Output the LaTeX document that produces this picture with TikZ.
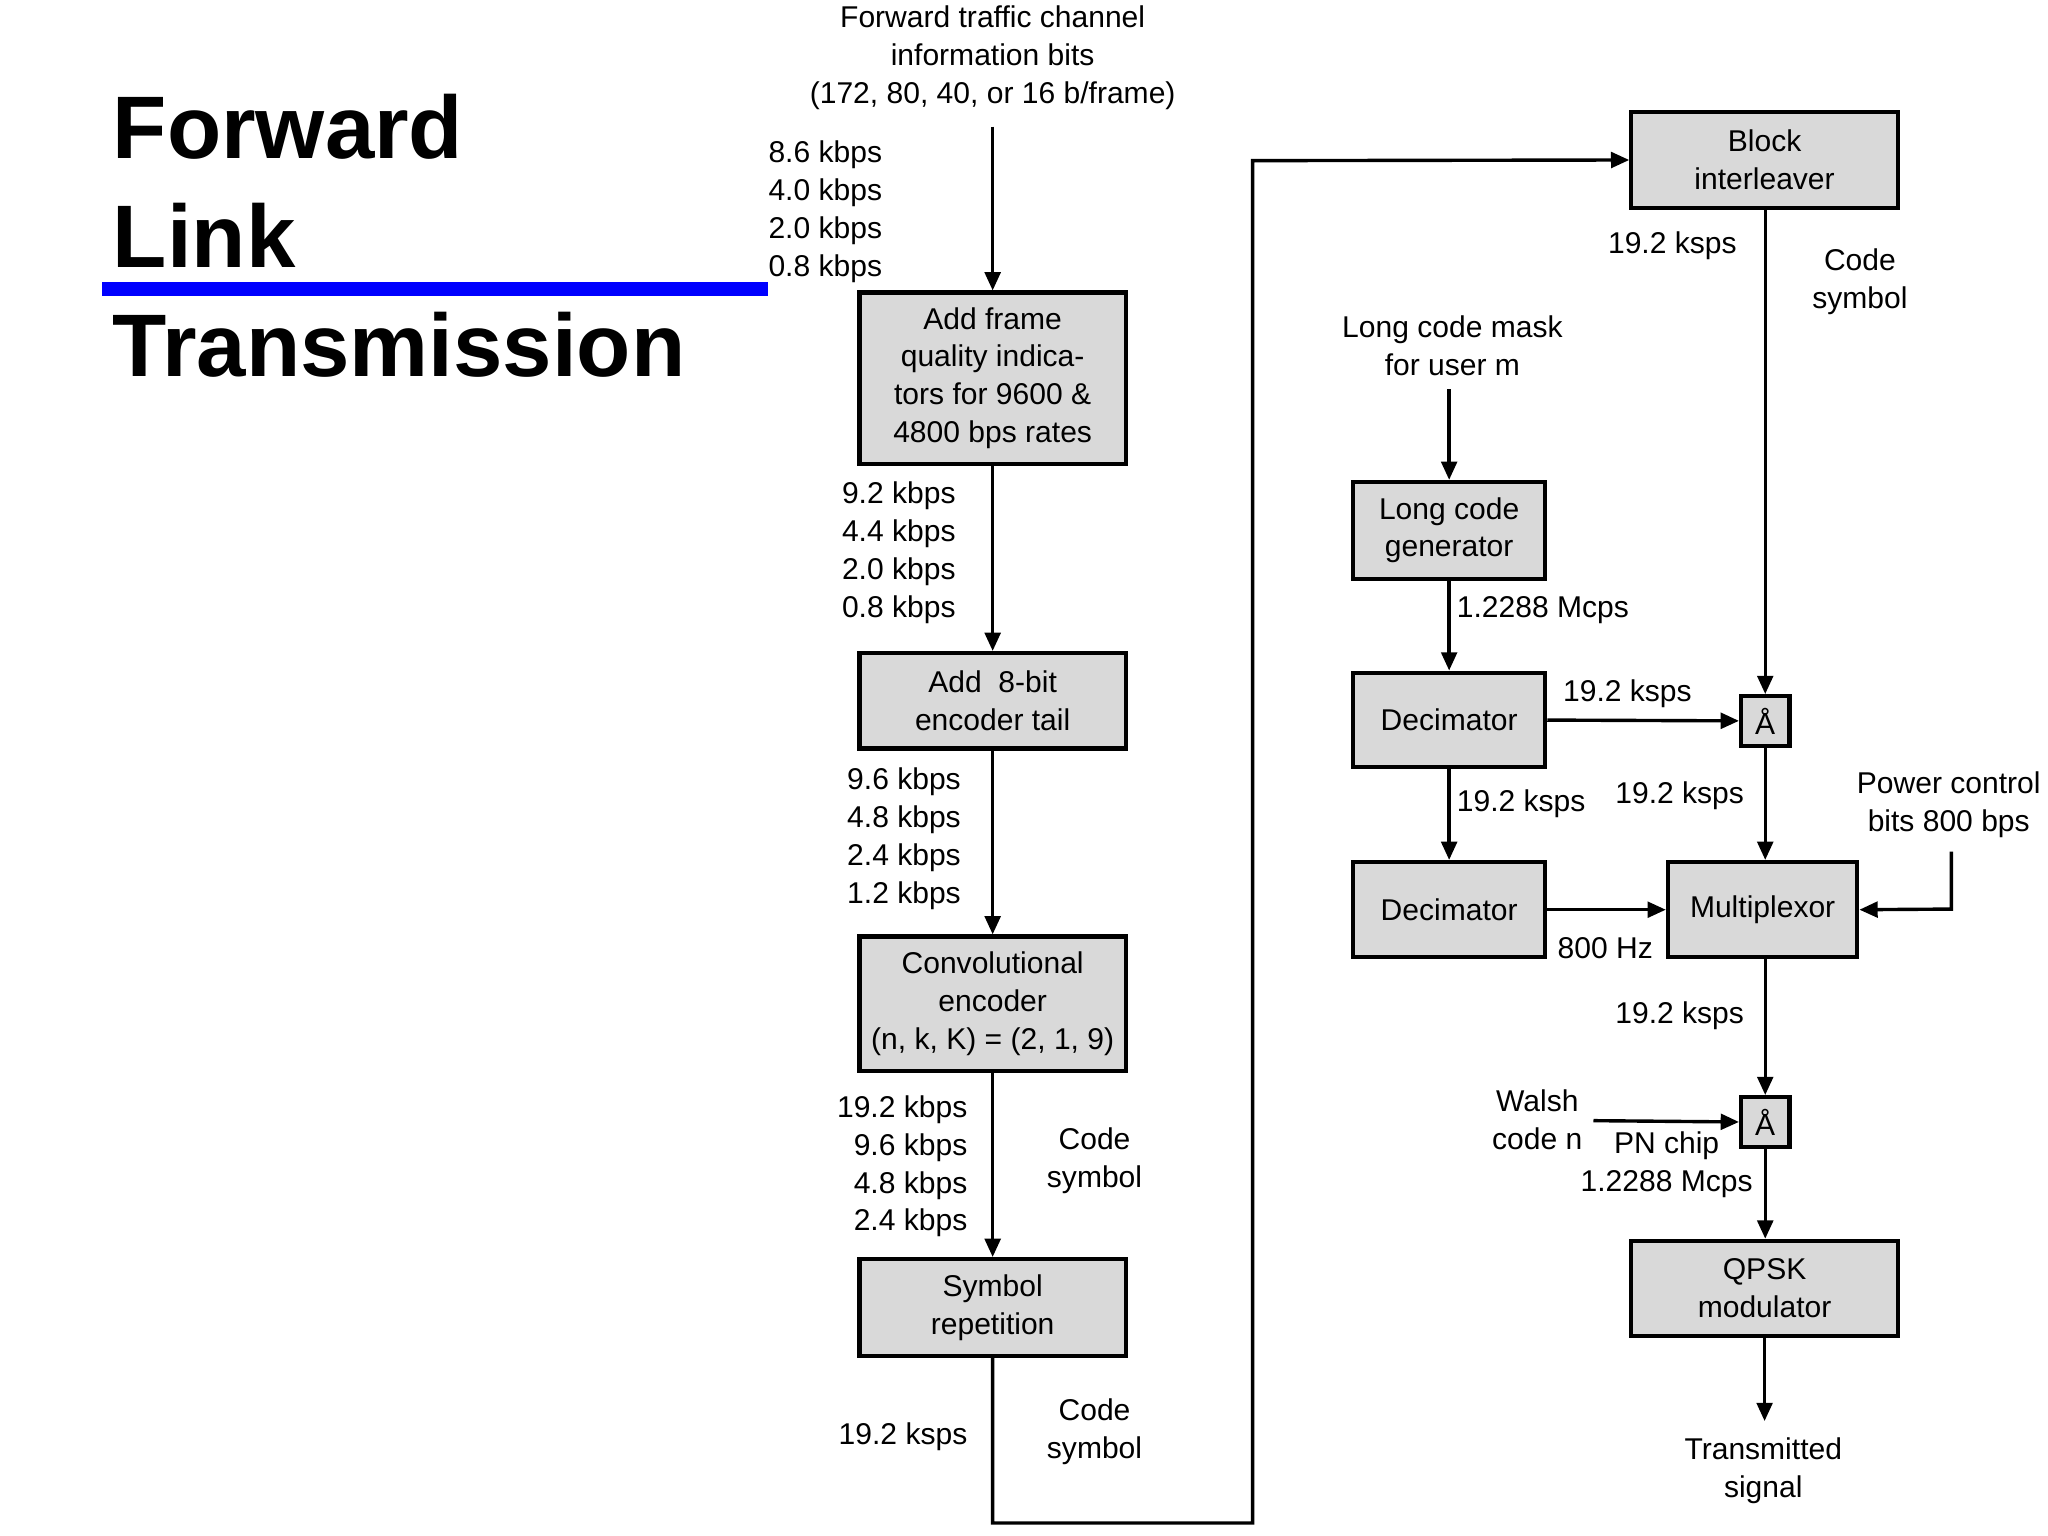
\documentclass[tikz,border=0pt]{standalone}
\usepackage{fontspec}
\setmainfont{Liberation Sans}
\usetikzlibrary{arrows.meta}
\begin{document}
\begin{tikzpicture}[x=0.5pt,y=-0.5pt,
  box/.style={draw,line width=1.6pt,fill=gray!30,inner sep=0pt,align=center,font=\fontsize{11.5}{14.5}\selectfont},
  lbl/.style={align=center,font=\fontsize{11.5}{14.5}\selectfont,inner sep=0pt},
  lblr/.style={align=right,font=\fontsize{11.5}{14.5}\selectfont,inner sep=0pt,anchor=east},
  lbll/.style={align=left,font=\fontsize{11.5}{14.5}\selectfont,inner sep=0pt,anchor=west},
  arr/.style={line width=1.3pt,-{Triangle[length=7pt,width=6pt]}},
  ln/.style={line width=1.3pt}]
\useasboundingbox (0,0) rectangle (1568,1176);
% title
\node[anchor=west,inner sep=0pt,font=\fontsize{34}{41}\selectfont\bfseries] (t1) at (86,97) {Forward};
\node[anchor=west,inner sep=0pt,font=\fontsize{34}{41}\selectfont\bfseries] (t2) at (86,180) {Link};
\node[anchor=west,inner sep=0pt,font=\fontsize{34}{41}\selectfont\bfseries] (t3) at (86,264) {Transmission};
\fill[blue] (78,216) rectangle (588,227);
% left column
\node[lbl] (top) at (760,44) {Forward traffic channel\\information bits\\(172, 80, 40, or 16 b/frame)};
\node[box,minimum width=102pt,minimum height=65.5pt] (af) at (760,289.5) {Add frame\\quality indica-\\tors for 9600 \&\\4800 bps rates};
\node[box,minimum width=102pt,minimum height=36.5pt] (at) at (760,536.5) {Add\ \ 8-bit\\encoder tail};
\node[box,minimum width=102pt,minimum height=51.5pt] (ce) at (760,768.5) {Convolutional\\encoder\\(n, k, K) = (2, 1, 9)};
\node[box,minimum width=102pt,minimum height=37pt] (sr) at (760,1001) {Symbol\\repetition};
\coordinate (tp) at (760,97);
\draw[arr] (tp) -- (af);
\draw[arr] (af) -- (at);
\draw[arr] (at) -- (ce);
\draw[arr] (ce) -- (sr);
\node[lbll] (l1) at (588,162) {8.6 kbps\\4.0 kbps\\2.0 kbps\\0.8 kbps};
\node[lblr] (l2) at (732,423) {9.2 kbps\\4.4 kbps\\2.0 kbps\\0.8 kbps};
\node[lblr] (l3) at (736,642) {9.6 kbps\\4.8 kbps\\2.4 kbps\\1.2 kbps};
\node[lblr] (l4) at (741,893) {19.2 kbps\\9.6 kbps\\4.8 kbps\\2.4 kbps};
\node[lbl] (cs1) at (838,889) {Code\\symbol};
\node[lblr] (l5) at (741,1100) {19.2 ksps};
\node[lbl] (cs2) at (838,1096) {Code\\symbol};
% right
\node[box,minimum width=102pt,minimum height=36.5pt] (bi) at (1351,122.5) {Block\\interleaver};
\draw[arr] (sr.south) -- (760,1166) -- (959,1166) -- (959,123) -- (bi.west);
\node[lblr] (l6) at (1330,188) {19.2 ksps};
\node[lbl] (cs3) at (1424,216) {Code\\symbol};
\node[lbl] (lcm) at (1112,265) {Long code mask\\for user m};
\node[box,minimum width=73.5pt,minimum height=37pt] (lcg) at (1109.5,406) {Long code\\generator};
\coordinate (lcmb) at (1109.5,298);
\draw[arr] (lcmb) -- (lcg);
\node[box,minimum width=73.5pt,minimum height=36pt] (d1) at (1109.5,551) {Decimator};
\node[box,minimum width=73.5pt,minimum height=36.5pt] (d2) at (1109.5,696.5) {Decimator};
\node[box,minimum width=72.5pt,minimum height=36.5pt] (mx) at (1349.5,696.5) {Multiplexor};
\node[box,minimum width=18.5pt,minimum height=19pt] (x1) at (1351.5,552) {Å};
\node[box,minimum width=18.5pt,minimum height=19pt] (x2) at (1351.5,859) {Å};
\node[box,minimum width=102pt,minimum height=36.5pt] (qp) at (1351,986.5) {QPSK\\modulator};
\draw[arr] (lcg) -- (d1);
\draw[arr] (d1) -- (d2);
\draw[arr] (bi.south -| x1) -- (x1);
\draw[arr] (d1) -- (x1);
\draw[arr] (x1.south) -- (x1.south |- mx.north);
\draw[arr] (d2) -- (mx);
\coordinate (pc) at (1494,652);
\draw[arr] (pc) -- (1494,696) -- (mx.east);
\draw[arr] (mx.south -| x2) -- (x2);
\coordinate (wa) at (1220,858);
\draw[arr] (wa) -- (x2.west);
\draw[arr] (x2) -- (qp.north -| x2);
\coordinate (ts) at (1351,1088);
\draw[arr] (qp.south) -- (ts);
\node[lbll] (l7) at (1115,467) {1.2288 Mcps};
\node[lbl] (l8) at (1246,531) {19.2 ksps};
\node[lbll] (l9) at (1115,615) {19.2 ksps};
\node[lbl] (l10) at (1286,609) {19.2 ksps};
\node[lbl] (pcb) at (1492,616) {Power control\\bits 800 bps};
\node[lbl] (l11) at (1229,726) {800 Hz};
\node[lbl] (l12) at (1286,778) {19.2 ksps};
\node[lbl] (wl) at (1177,857) {Walsh\\code n};
\node[lbl] (pn) at (1276,892) {PN chip\\1.2288 Mcps};
\node[lbl] (tsl) at (1350,1126) {Transmitted\\signal};
\end{tikzpicture}
\end{document}
